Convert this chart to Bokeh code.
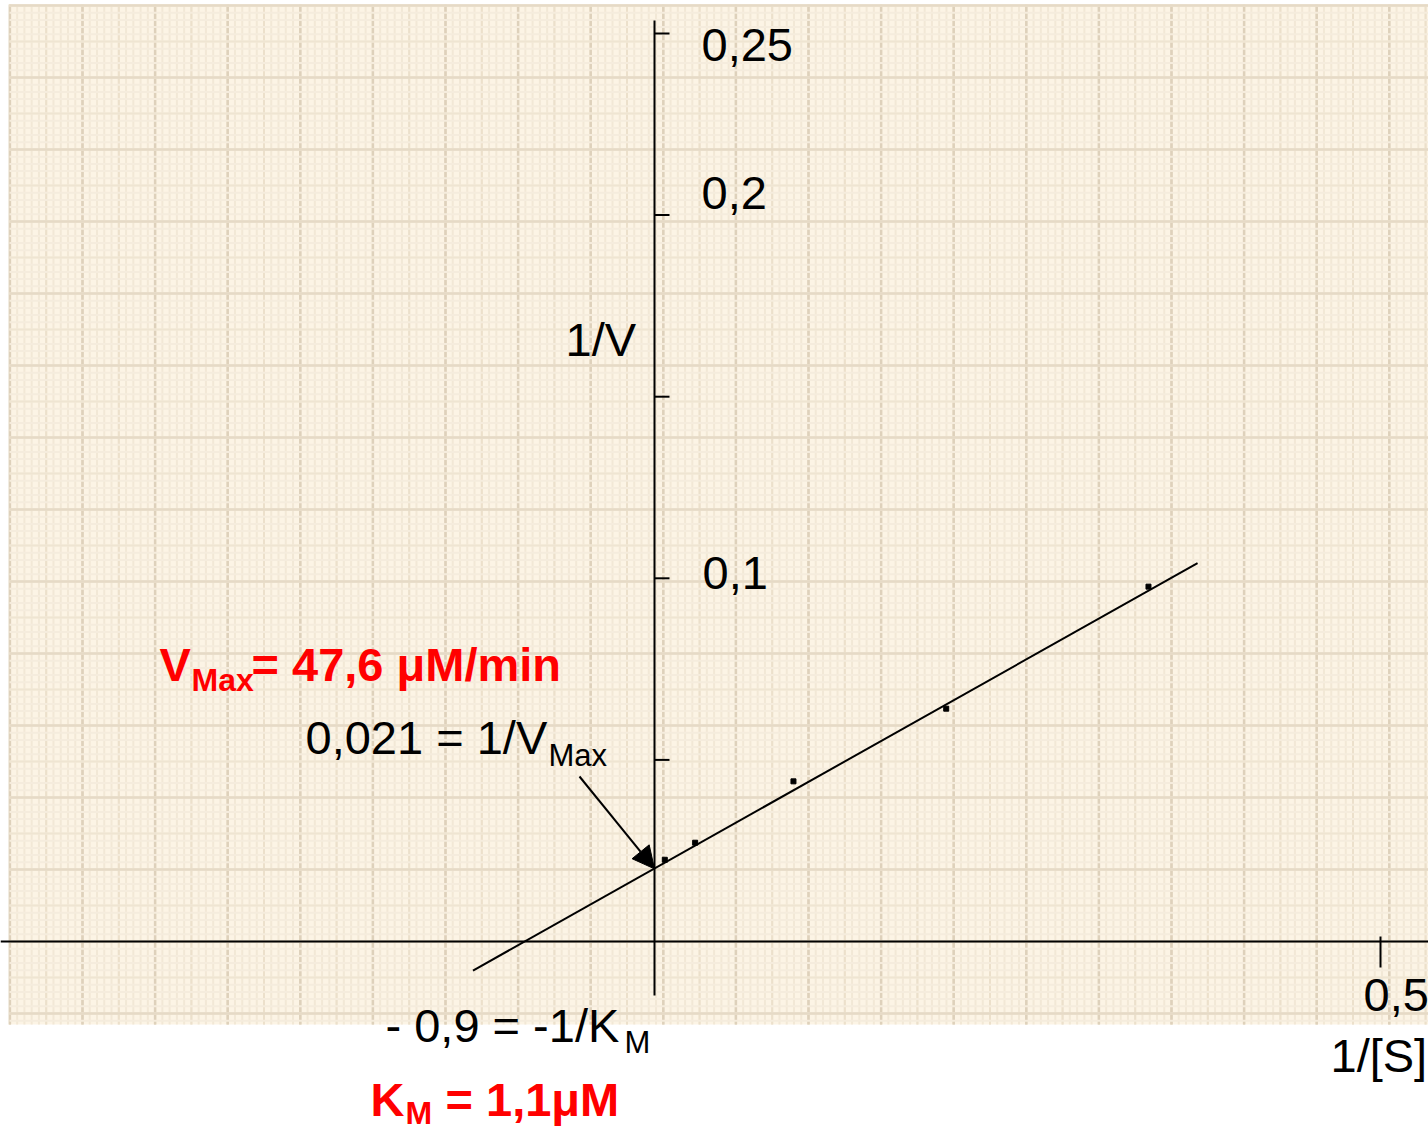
import numpy as np
from bokeh.plotting import figure
from bokeh.models import Label, Arrow, NormalHead, BoxAnnotation, Range1d, Span
from bokeh.embed import file_html
from bokeh.resources import INLINE

# ---------------- data ----------------
inv_s = [0.0071, 0.0280, 0.0957, 0.2009, 0.3402]      # 1/[S]
inv_v = [0.0225, 0.0272, 0.0441, 0.0641, 0.0977]      # 1/V
fit_x = [-0.125, 0.374]                                # regression line ends
fit_y = [-0.0080, 0.1042]
inv_vmax = 0.0200                                      # y-intercept (arrow target)
y_ticks = [0.05, 0.10, 0.15, 0.20, 0.25]
y_tick_labels = {0.25: "0,25", 0.20: "0,2", 0.10: "0,1"}
x_ticks = [0.5]
x_tick_labels = {0.5: "0,5"}

# ---------------- geometry helpers (reference pixel -> data) ----------------
X0, XS = 654.0, 1452.0
Y0, YS = 941.0, 3632.0
def dx(px):
    return (px - X0) / XS
def dy(py):
    return (Y0 - py) / YS

W, H = 1428, 1134
p = figure(width=W, height=H, output_backend="svg", toolbar_location=None,
           x_range=Range1d(dx(0), dx(W)), y_range=Range1d(dy(H), dy(0)),
           x_axis_location=None, y_axis_location=None, min_border=0,
           background_fill_color="white", border_fill_color="white")
p.outline_line_color = None
p.xgrid.visible = False
p.ygrid.visible = False

# ---------------- graph-paper background ----------------
paper_left, paper_right, paper_bottom, paper_top = dx(9), dx(1428), dy(1024), dy(4)
p.add_layout(BoxAnnotation(left=paper_left, right=paper_right, bottom=paper_bottom,
                           top=paper_top, fill_color="#fcf4e5", fill_alpha=1.0,
                           line_color=None, level="underlay"))

vx_major0, vx_step = dx(82), 72.6 / XS
hy_major0, hy_step = dy(77), 72.0 / YS
def grid_positions(start, step, lo, hi, div):
    vals = np.arange(start - 3 * step, start + 30 * step, step / div)
    return vals[(vals > lo) & (vals < hi)]
fine_v = grid_positions(vx_major0, vx_step, paper_left, paper_right, 10)
mid_v = grid_positions(vx_major0, vx_step, paper_left, paper_right, 2)
maj_v = grid_positions(vx_major0, vx_step, paper_left, paper_right, 1)
h_start = hy_major0 - 20 * hy_step
fine_h = grid_positions(h_start, hy_step, paper_bottom, paper_top, 10)
mid_h = grid_positions(h_start, hy_step, paper_bottom, paper_top, 2)
maj_h = grid_positions(h_start, hy_step, paper_bottom, paper_top, 1)

for xs_, col, lw in [(fine_v, "#f2e8d6", 2.0), (mid_v, "#ece0cb", 2.0), (maj_v, "#ded1bb", 2.5)]:
    p.segment(x0=xs_, y0=paper_bottom, x1=xs_, y1=paper_top, line_color=col, line_width=lw)
for hs_, col, lw in [(fine_h, "#f5ecdd", 2.0), (mid_h, "#efe5d2", 2.0), (maj_h, "#e6dac6", 2.5)]:
    p.segment(x0=paper_left, y0=hs_, x1=paper_right, y1=hs_, line_color=col, line_width=lw)

# ---------------- axes ----------------
p.add_layout(Span(location=0, dimension="width", line_color="black", line_width=2))
y_axis_bounds = (dy(995), dy(20))
p.segment(x0=0, y0=y_axis_bounds[0], x1=0, y1=y_axis_bounds[1], line_color="black", line_width=2)
p.ray(x=[0] * len(y_ticks), y=y_ticks, length=15, length_units="screen", angle=0,
      line_color="black", line_width=2)
p.ray(x=x_ticks, y=[0] * len(x_ticks), length=26, length_units="screen", angle=-np.pi / 2,
      line_color="black", line_width=2)
p.ray(x=x_ticks, y=[0] * len(x_ticks), length=5, length_units="screen", angle=np.pi / 2,
      line_color="black", line_width=2)

# ---------------- data marks ----------------
p.line(fit_x, fit_y, line_color="black", line_width=2)
p.scatter(inv_s, inv_v, marker="square", size=5, color="black")

p.add_layout(Arrow(end=NormalHead(size=22, fill_color="black", line_color="black"),
                   x_start=dx(579), y_start=dy(776), x_end=0, y_end=inv_vmax,
                   line_color="black", line_width=2))

# ---------------- texts ----------------
FONT = "Liberation Sans"
def lab(text, px, py, size, color="black", bold=False):
    # py is the wanted baseline in reference pixels; the renderer draws ~0.38 em low
    p.add_layout(Label(x=dx(px), y=dy(py - 0.38 * size), text=text, text_font=FONT,
                       text_font_size=f"{size}px", text_color=color,
                       text_font_style="bold" if bold else "normal",
                       text_align="left", text_baseline="alphabetic"))

lab(y_tick_labels[0.25], 701, 62, 47)
lab(y_tick_labels[0.20], 701, 210, 47)
lab(y_tick_labels[0.10], 702, 590, 47)
lab("1/V", 565, 357, 47)
lab(x_tick_labels[0.5], 1363, 1012, 47)
lab("1/[S]", 1330, 1073, 47)

RED = "#ff0000"
lab("V", 159, 682, 47, RED, True)
lab("Max", 191, 692, 32, RED, True)
lab("= 47,6 \u03bcM/min", 251, 682, 47, RED, True)

lab("0,021 = 1/V", 305, 755, 47)
lab("Max", 548, 767, 31)

lab("- 0,9 = -1/K", 385, 1043, 47)
lab("M", 624, 1054, 31)

lab("K", 370, 1117, 47, RED, True)
lab("M", 405, 1125, 32, RED, True)
lab("= 1,1\u03bcM", 445, 1117, 47, RED, True)

open("out.html", "w").write(file_html(p, INLINE))
